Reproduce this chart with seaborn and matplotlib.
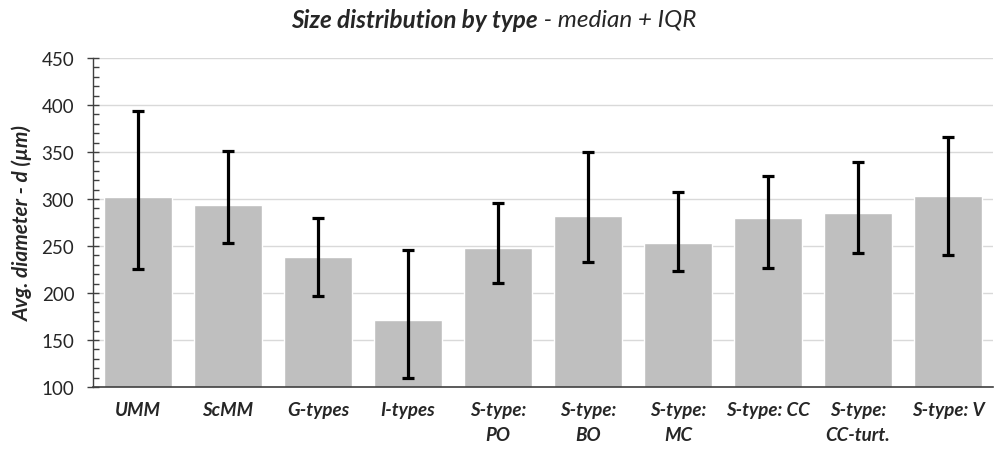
import matplotlib
matplotlib.use("Agg")
import matplotlib.pyplot as plt
import seaborn as sns
import pandas as pd
import numpy as np
from matplotlib.ticker import MultipleLocator

categories = ["UMM", "ScMM", "G-types", "I-types", "S-type:\nPO", "S-type:\nBO",
              "S-type:\nMC", "S-type: CC", "S-type:\nCC-turt.", "S-type: V"]
median = [302, 294, 238, 171, 248, 282, 253, 280, 285, 303]
q1 = [226, 253, 197, 110, 211, 233, 223, 227, 243, 240]
q3 = [394, 351, 280, 246, 296, 350, 307, 325, 339, 366]

sns.set_theme(style="white")
plt.rcParams['font.family'] = ['Lato', 'DejaVu Sans']

df = pd.DataFrame({"type": categories, "median": median})

fig = plt.figure(figsize=(10.01, 4.52), dpi=100)
ax = fig.add_axes([93/1001, 1-388/452, 900/1001, 329/452])

sns.barplot(data=df, x="type", y="median", color="#bfbfbf", saturation=1,
            width=0.76, errorbar=None, ax=ax, zorder=2)

pos = np.arange(len(categories))
med = np.array(median)
lower = med - np.array(q1)
upper = np.array(q3) - med
ax.errorbar(pos, med, yerr=[lower, upper], fmt="none", ecolor="black",
            elinewidth=2.3, capsize=4.5, capthick=2.3, zorder=3)

ax.set_ylim(100, 450)
ax.set_xlim(-0.5, len(categories) - 0.5)
ax.yaxis.set_major_locator(MultipleLocator(50))
ax.yaxis.set_minor_locator(MultipleLocator(10))
ax.grid(axis="y", which="major", color="#d9d9d9", linewidth=1, zorder=0)
ax.set_axisbelow(True)

for s in ["top", "right"]:
    ax.spines[s].set_visible(False)
ax.spines["left"].set_color("#404040")
ax.spines["bottom"].set_color("#404040")
ax.spines["left"].set_linewidth(1)
ax.spines["bottom"].set_linewidth(1.2)

ax.tick_params(axis="y", which="major", direction="inout", length=9, width=1,
               color="#404040", labelsize=13.5, labelcolor="#262626", pad=9, left=True)
ax.tick_params(axis="y", which="minor", direction="in", length=4, width=1,
               color="#404040", left=True)
ax.tick_params(axis="x", length=0, pad=10)

for lab in ax.get_xticklabels():
    lab.set_fontweight("bold")
    lab.set_fontstyle("italic")
    lab.set_fontsize(13.5)
    lab.set_color("#262626")
    lab.set_multialignment("center")
    lab.set_linespacing(1.6)

ax.set_xlabel("")
ax.set_ylabel("Avg. diameter - d (µm)", fontsize=15, fontweight="bold",
              fontstyle="italic", color="#262626", labelpad=6)

fig.text(0.537, 0.955, "Size distribution by type", ha="right", va="center",
         fontsize=17.5, fontweight="bold", fontstyle="italic", color="#262626")
fig.text(0.537, 0.955, " - median + IQR", ha="left", va="center",
         fontsize=17.5, fontstyle="italic", color="#262626")

fig.savefig("out.png", dpi=100)
